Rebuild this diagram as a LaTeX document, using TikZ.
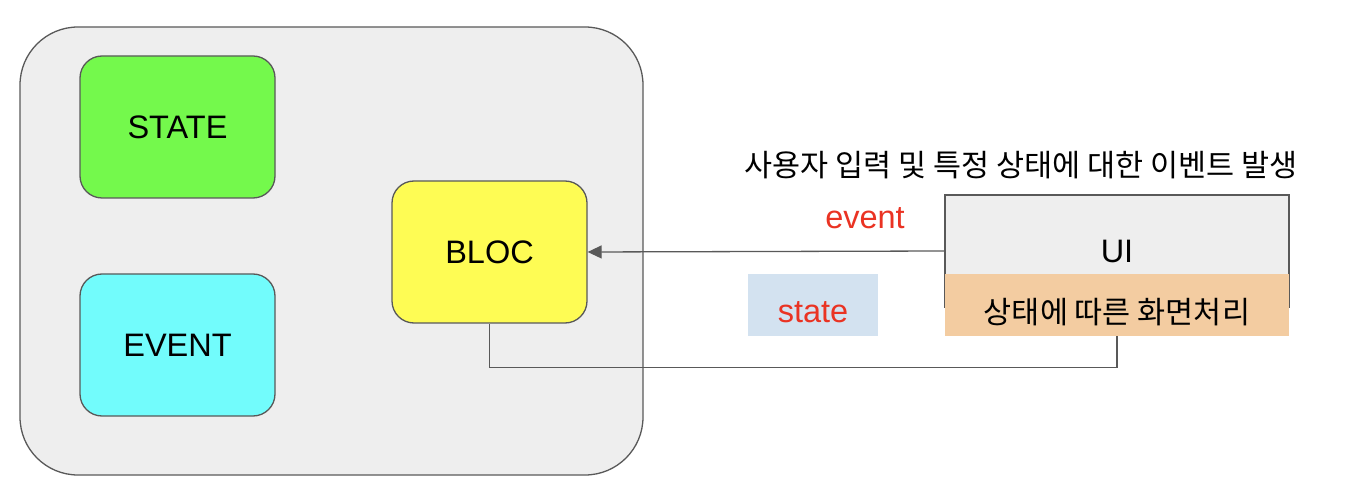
\documentclass[tikz,border=0pt]{standalone}
\usepackage{fontspec}
\setmainfont{Liberation Sans}
\newfontfamily\kr{Noto Sans CJK KR}
\usetikzlibrary{arrows.meta}
\definecolor{linegray}{HTML}{595959}
\definecolor{areagray}{HTML}{EEEEEE}
\definecolor{stategreen}{HTML}{74F94C}
\definecolor{eventcyan}{HTML}{72FCFC}
\definecolor{blocyellow}{HTML}{FEFC54}
\definecolor{peach}{HTML}{F3CCA1}
\definecolor{lightblue}{HTML}{D3E2F0}
\definecolor{labelred}{HTML}{EA3323}
\begin{document}
\begin{tikzpicture}[x=1pt,y=-1pt,
  lat/.style={font=\fontsize{32.5}{38}\selectfont},
  hangul/.style={font=\kr\fontsize{30.5}{36}\selectfont},
  rbox/.style={draw=linegray, line width=1.3pt, rounded corners=22pt, minimum width=195pt, minimum height=142pt, inner sep=0pt, lat},
  flat/.style={inner sep=0pt},
  conn/.style={draw=linegray, line width=1.3pt}]
\useasboundingbox (0,0) rectangle (1354,502);
\node[draw=linegray, fill=areagray, line width=1.3pt, rounded corners=58pt, minimum width=623pt, minimum height=448pt, inner sep=0pt] (area) at (331.5,251) {};
\node[rbox, fill=stategreen] (state) at (177.5,127) {STATE};
\node[rbox, fill=eventcyan] (event) at (177.5,345) {EVENT};
\node[rbox, fill=blocyellow] (bloc) at (489.5,252) {BLOC};
\node[hangul] (title) at (1021,165) {사용자 입력 및 특정 상태에 대한 이벤트 발생};
\node[draw=linegray, fill=areagray, line width=1.3pt, minimum width=344pt, minimum height=112pt, inner sep=0pt, lat] (ui) at (1117,251) {UI};
\node[flat, fill=peach, minimum width=344pt, minimum height=62pt, hangul] (render) at (1117,305) {\raisebox{-19pt}[0pt][0pt]{상태에 따른 화면처리}};
\node[flat, fill=lightblue, minimum width=130pt, minimum height=62pt, lat, text=labelred] (statelbl) at (813,305) {\raisebox{-18pt}[0pt][0pt]{state}};
\node[lat, text=labelred] (eventlbl) at (865,218) {event};
\draw[conn, -{Triangle[length=14pt,width=13pt]}] (ui.west) -- (bloc.east);
\draw[conn] (render.south) -- ++(0,31) coordinate (turn) -| (bloc.south);
\end{tikzpicture}
\end{document}
